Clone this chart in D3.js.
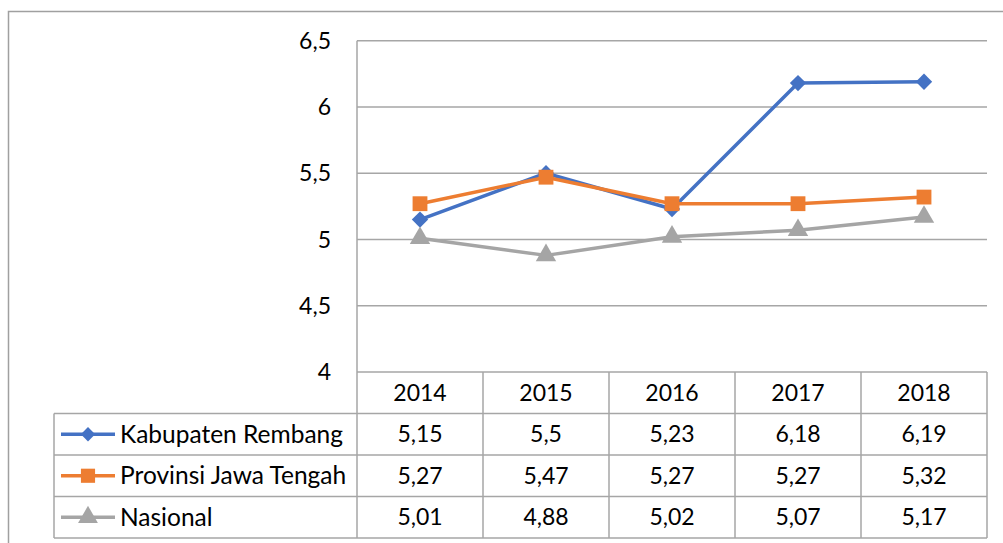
<!DOCTYPE html>
<html><head><meta charset="utf-8">
<script src="https://cdn.jsdelivr.net/npm/d3@7"></script>
<style>html,body{margin:0;padding:0;background:#fff;}svg{display:block;}</style>
</head><body>
<script>
const years = ["2014","2015","2016","2017","2018"];
const seriesNames = ["Kabupaten Rembang","Provinsi Jawa Tengah","Nasional"];
const kabRembang = [5.15, 5.5, 5.23, 6.18, 6.19];
const jawaTengah = [5.27, 5.47, 5.27, 5.27, 5.32];
const nasional = [5.01, 4.88, 5.02, 5.07, 5.17];
const yTicks = [4, 4.5, 5, 5.5, 6, 6.5];
const colors = ["#4472C4","#ED7D31","#A5A5A5"];
const symbols = [d3.symbolDiamond2, d3.symbolSquare, d3.symbolTriangle];

const series = [kabRembang, jawaTengah, nasional].map((v,i)=>({name:seriesNames[i], values:v, color:colors[i], symbol:symbols[i]}));

const W = 1003, H = 543;
const font = "Lato, 'Open Sans', sans-serif";
const fs = 23;
const svg = d3.select("body").append("svg").attr("width",W).attr("height",H);
const gridColor = "#a6a6a6";

// outer chart border
svg.append("rect").attr("x",8.5).attr("y",11.5).attr("width",1100).attr("height",600)
  .attr("fill","none").attr("stroke","#a0a0a0").attr("stroke-width",1.5);

const plotL = 357, plotR = 987, plotT = 40.7, plotB = 372;
const x = d3.scaleBand().domain(years).range([plotL, plotR]);
const y = d3.scaleLinear().domain([4, 6.5]).range([plotB, plotT]);

// gridlines
svg.append("g").selectAll("line").data(yTicks.filter(t=>t>4)).join("line")
  .attr("x1",plotL).attr("x2",plotR).attr("y1",d=>y(d)).attr("y2",d=>y(d))
  .attr("stroke",gridColor).attr("stroke-width",1.5);

// y axis labels
const fmt = d => String(d).replace(".", ",");
svg.append("g").selectAll("text").data(yTicks).join("text")
  .attr("x",331).attr("y",d=>y(d)).attr("dy","0.35em").attr("text-anchor","end")
  .attr("font-family",font).attr("font-size",fs).attr("fill","#000").text(fmt);

// table
const rowH = 41.5;
const tableTop = plotB;
const legL = 54;
const tg = svg.append("g").attr("stroke",gridColor).attr("stroke-width",1.5);
tg.append("line").attr("x1",plotL).attr("x2",plotR).attr("y1",tableTop).attr("y2",tableTop);
for (let r=1;r<=4;r++){
  tg.append("line").attr("x1",legL).attr("x2",plotR).attr("y1",tableTop+r*rowH).attr("y2",tableTop+r*rowH);
}
tg.append("line").attr("x1",plotL).attr("x2",plotL).attr("y1",plotT).attr("y2",tableTop+4*rowH);
years.forEach((yr,i)=>{
  const xx = x(yr)+x.bandwidth();
  tg.append("line").attr("x1",xx).attr("x2",xx).attr("y1",tableTop).attr("y2",tableTop+4*rowH);
});
tg.append("line").attr("x1",legL).attr("x2",legL).attr("y1",tableTop+rowH).attr("y2",tableTop+4*rowH);

// year header
svg.append("g").selectAll("text").data(years).join("text")
  .attr("x",d=>x(d)+x.bandwidth()/2).attr("y",tableTop+rowH/2).attr("dy","0.35em")
  .attr("text-anchor","middle").attr("font-family",font).attr("font-size",fs).text(d=>d);

// rows
series.forEach((s,si)=>{
  const cy = tableTop+(si+1)*rowH+rowH/2;
  svg.append("g").selectAll("text").data(s.values).join("text")
    .attr("x",(d,i)=>x(years[i])+x.bandwidth()/2).attr("y",cy).attr("dy","0.35em")
    .attr("text-anchor","middle").attr("font-family",font).attr("font-size",fs).text(fmt);
  svg.append("line").attr("x1",61).attr("x2",115).attr("y1",cy).attr("y2",cy)
    .attr("stroke",s.color).attr("stroke-width",3.5);
  svg.append("path").attr("d",d3.symbol(s.symbol, si===0?130:(si===1?200:170))())
    .attr("transform",`translate(88,${cy})`).attr("fill",s.color);
  svg.append("text").attr("x",120).attr("y",cy).attr("dy","0.35em")
    .attr("font-family",font).attr("font-size",24.5).text(s.name);
});

// lines + markers
const line = d3.line().x((d,i)=>x(years[i])+x.bandwidth()/2).y(d=>y(d));
series.forEach((s,si)=>{
  svg.append("path").datum(s.values).attr("d",line).attr("fill","none")
    .attr("stroke",s.color).attr("stroke-width",3.5).attr("stroke-linejoin","round");
  svg.append("g").selectAll("path").data(s.values).join("path")
    .attr("d",d3.symbol(s.symbol, si===0?170:(si===1?220:180))())
    .attr("transform",(d,i)=>`translate(${x(years[i])+x.bandwidth()/2},${y(d)})`)
    .attr("fill",s.color);
});
</script>
</body></html>
